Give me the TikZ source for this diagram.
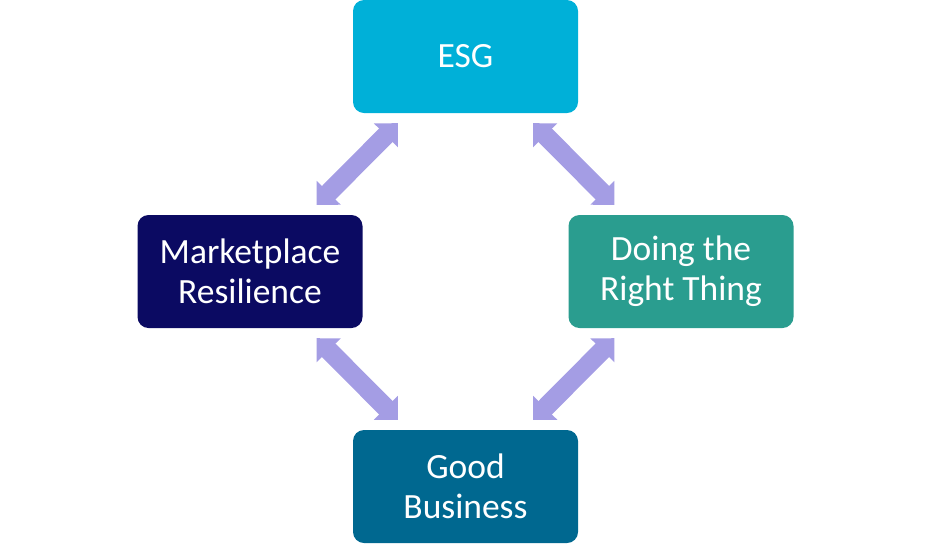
\documentclass[tikz,border=0pt]{standalone}
\usepackage{fontspec}
\setmainfont{Carlito}
\usetikzlibrary{arrows.meta}
\definecolor{esgc}{HTML}{00B0D8}
\definecolor{mrc}{HTML}{0B0A62}
\definecolor{drtc}{HTML}{2A9D8F}
\definecolor{gbc}{HTML}{006890}
\definecolor{arrc}{HTML}{A49DE4}
\tikzset{
  box/.style={rectangle, rounded corners=11pt, minimum width=225pt, minimum height=113pt,
    inner sep=0pt, text=white, align=center, font=\fontsize{35.5}{40}\selectfont},
  dbl/.style={arrc, line width=19pt,
    {Triangle[width=33pt,length=17pt]}-{Triangle[width=33pt,length=17pt]}}
}
\begin{document}
\begin{tikzpicture}[x=1pt,y=-1pt]
\useasboundingbox (0,0) rectangle (931,550);
\node[box, fill=esgc] (esg) at (465.5,56.5) {ESG};
\node[box, fill=mrc] (mr) at (250,271.5) {Marketplace\\Resilience};
\node[box, fill=drtc] (drt) at (681,271.5) {Doing the\\Right Thing};
\node[box, fill=gbc] (gb) at (465.5,486.5) {Good\\Business};
\coordinate (a1) at ([shift={(45,10)}]esg.south west);
\coordinate (a2) at ([shift={(-46,-10)}]mr.north east);
\coordinate (b1) at ([shift={(-45,10)}]esg.south east);
\coordinate (b2) at ([shift={(46,-10)}]drt.north west);
\coordinate (c1) at ([shift={(-46,10)}]mr.south east);
\coordinate (c2) at ([shift={(45,-10)}]gb.north west);
\coordinate (d1) at ([shift={(46,10)}]drt.south west);
\coordinate (d2) at ([shift={(-45,-10)}]gb.north east);
\draw[dbl] (a1) -- (a2);
\draw[dbl] (b1) -- (b2);
\draw[dbl] (c1) -- (c2);
\draw[dbl] (d1) -- (d2);
\end{tikzpicture}
\end{document}
